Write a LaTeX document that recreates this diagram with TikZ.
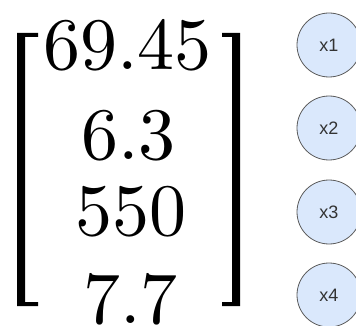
\documentclass[tikz,border=0pt]{standalone}
\usepackage{fontspec}
\newfontfamily\labelfont{Liberation Sans}
\newfontfamily\numfont{lmroman10-regular}[Extension=.otf]
\usepackage{tikz}
\usetikzlibrary{positioning}

\definecolor{circfill}{HTML}{DAE8FC}
\definecolor{circline}{HTML}{5A5A5A}
\definecolor{labeltext}{HTML}{333333}

\begin{document}
\begin{tikzpicture}[
  x=1pt,y=-1pt,
  entry/.style={inner sep=0pt,anchor=base,font=\numfont\fontsize{74}{74}\selectfont},
  var/.style={circle,draw=circline,fill=circfill,minimum size=64pt,inner sep=0pt,
              line width=0.8pt,text=labeltext,font=\labelfont\fontsize{18}{18}\selectfont},
  brk/.style={fill=black}
]
\useasboundingbox (0,0) rectangle (356,326);
\clip (0,0) rectangle (356,326);
% vector entries
\node[entry] (e1) at (127.5,70) {69.45};
\node[entry] (e2) at (128.5,159) {6.3};
\node[entry] (e3) at (130.5,235) {550};
\node[entry] (e4) at (130.5,323) {7.7};
% brackets
\fill[brk] (38,33) -- (17,33) -- (17,306) -- (38,306) -- (38,302) -- (25,302)
  -- (25,37) -- (38,37) -- cycle;
\fill[brk] (222,33) -- (240,33) -- (240,306) -- (222,306) -- (222,302) -- (232,302)
  -- (232,37) -- (222,37) -- cycle;
% inputs
\node[var] (x1) at (329,45) {x1};
\node[var] (x2) at (329,128) {x2};
\node[var] (x3) at (329,212) {x3};
\node[var] (x4) at (329,295) {x4};
\end{tikzpicture}
\end{document}
